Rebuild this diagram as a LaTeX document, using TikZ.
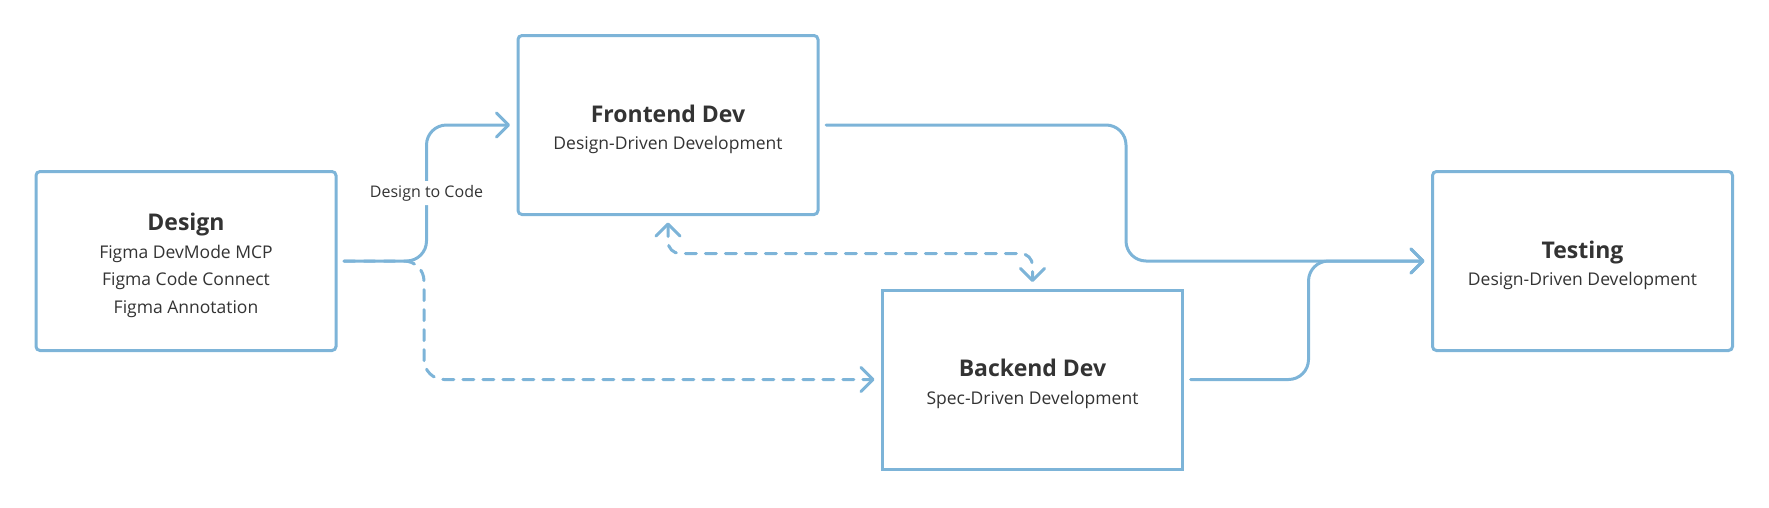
\documentclass[tikz,border=0pt]{standalone}
\usepackage{fontspec}
\setmainfont{Open Sans}
\usetikzlibrary{arrows.meta,positioning}
\definecolor{azulflujo}{RGB}{125,180,216}
\definecolor{textoflujo}{RGB}{51,51,51}
\newcommand\titulo[1]{{\fontsize{23}{26}\selectfont\bfseries\rule{0pt}{26pt}#1}}
\tikzset{
  caja/.style={rectangle,rounded corners=4pt,draw=azulflujo,line width=3pt,fill=white,
    align=center,minimum width=300pt,minimum height=179pt,inner sep=0pt,outer sep=8pt,
    text=textoflujo,font=\fontsize{17.5}{27.5}\selectfont},
  cajac/.style={caja,rounded corners=0pt},
  flecha/.style={-{Straight Barb[round,length=12pt,width=24pt]},azulflujo,line width=3pt,
    rounded corners=20pt,line cap=round},
  flechad/.style={flecha,dash pattern=on 11pt off 9pt},
  etiqueta/.style={fill=white,text=textoflujo,font=\fontsize{16}{19}\selectfont,inner sep=4pt},
}
\begin{document}
\begin{tikzpicture}[x=1pt,y=-1pt]
    \useasboundingbox (0,0) rectangle (1769,507);
    \node[caja] (design) at (186,261) {\titulo{Design}\\Figma DevMode MCP\\Figma Code Connect\\Figma Annotation};
    \node[caja] (frontend) at (668,125) {\titulo{Frontend Dev}\\Design-Driven Development};
    \node[cajac] (backend) at (1032.5,379.5) {\titulo{Backend Dev}\\Spec-Driven Development};
    \node[caja] (testing) at (1582.5,261) {\titulo{Testing}\\Design-Driven Development};
    % conexiones
    \draw[flechad] (design.east) -- ++(80,0) |- (backend.west);
    \draw[flechad,{Straight Barb[round,length=12pt,width=24pt]}-{Straight Barb[round,length=12pt,width=24pt]},
      rounded corners=12pt] (frontend.south) -- ++(0,31) -| (backend.north);
    \draw[flecha] (design.east) -- ++(82.5,0) |- node[etiqueta,pos=0.25] (dtc) {Design to Code} (frontend.west);
    \draw[flecha] (frontend.east) -- ++(300,0) |- (testing.west);
    \draw[flecha] (backend.east) -- ++(118,0) |- (testing.west);
  \end{tikzpicture}
\end{document}
